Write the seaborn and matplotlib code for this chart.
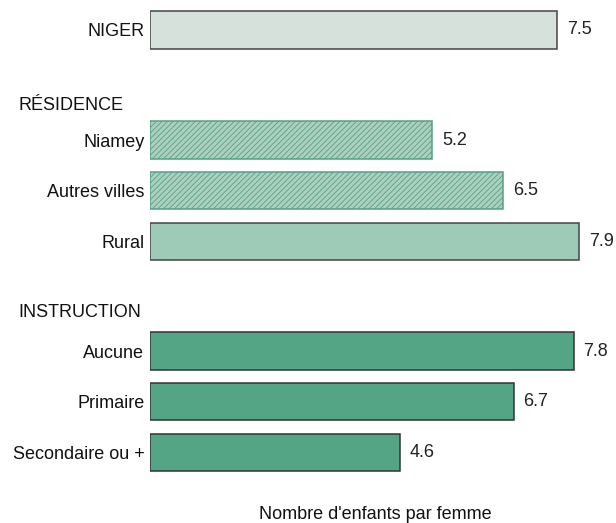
import matplotlib
matplotlib.use("Agg")
import matplotlib.pyplot as plt
import matplotlib.transforms as mtransforms
import pandas as pd
import seaborn as sns

# données
niger_label = ["NIGER"]
niger_value = [7.5]
residence_labels = ["Niamey", "Autres villes", "Rural"]
residence_values = [5.2, 6.5, 7.9]
instruction_labels = ["Aucune", "Primaire", "Secondaire ou +"]
instruction_values = [7.8, 6.7, 4.6]
section_titles = ["RÉSIDENCE", "INSTRUCTION"]
xlabel = "Nombre d'enfants par femme"

# mise en page (positions des lignes)
pos_niger = [0.0]
pos_residence = [2.18, 3.18, 4.19]
pos_instruction = [6.36, 7.36, 8.37]
pos_titles = [1.49, 5.6]

sns.set_theme(style="white")
plt.rcParams["font.family"] = ["Liberation Sans", "DejaVu Sans"]
plt.rcParams["hatch.linewidth"] = 0.6

fig = plt.figure(figsize=(6.16, 5.23), dpi=100)
ax = fig.add_axes([150 / 616, 43 / 523, 450 / 616, 480 / 523])

groups = [
    (niger_label, niger_value, pos_niger, "#d7e1dc", "#444444", None),
    (residence_labels[:2], residence_values[:2], pos_residence[:2], "#acd0c0", "#55a084", "//////"),
    (residence_labels[2:], residence_values[2:], pos_residence[2:], "#9ecab8", "#444444", None),
    (instruction_labels, instruction_values, pos_instruction, "#53a586", "#333333", None),
]

for labels, values, pos, face, edge, hatch in groups:
    df = pd.DataFrame({"label": labels, "valeur": values, "pos": pos})
    sns.barplot(data=df, x="valeur", y="pos", orient="h", native_scale=True,
                color=face, saturation=1, width=0.74, edgecolor=edge,
                linewidth=1.1, hatch=hatch, ax=ax)
    for v, p in zip(values, pos):
        ax.text(v + 0.18, p, f"{v:.1f}", va="center", ha="left", fontsize=13, color="#222222")

ax.set_xlim(0, 450 / 54.3)
ax.set_ylim((480 - 30) / 50.5, -30 / 50.5)

all_pos = pos_niger + pos_residence + pos_instruction
all_labels = niger_label + residence_labels + instruction_labels
ax.set_yticks(all_pos)
ax.set_yticklabels(all_labels, fontsize=13, color="#111111")
ax.tick_params(axis="y", length=0, pad=4)
ax.set_xticks([])
ax.set_ylabel("")
ax.set_xlabel(xlabel, fontsize=13, color="#111111", labelpad=19)
sns.despine(ax=ax, left=True, bottom=True)

trans = mtransforms.blended_transform_factory(fig.transFigure, ax.transData)
for t, p in zip(section_titles, pos_titles):
    ax.text(18 / 616, p, t, transform=trans, ha="left", va="center", fontsize=13, color="#111111")

fig.savefig("out.png", dpi=100)
